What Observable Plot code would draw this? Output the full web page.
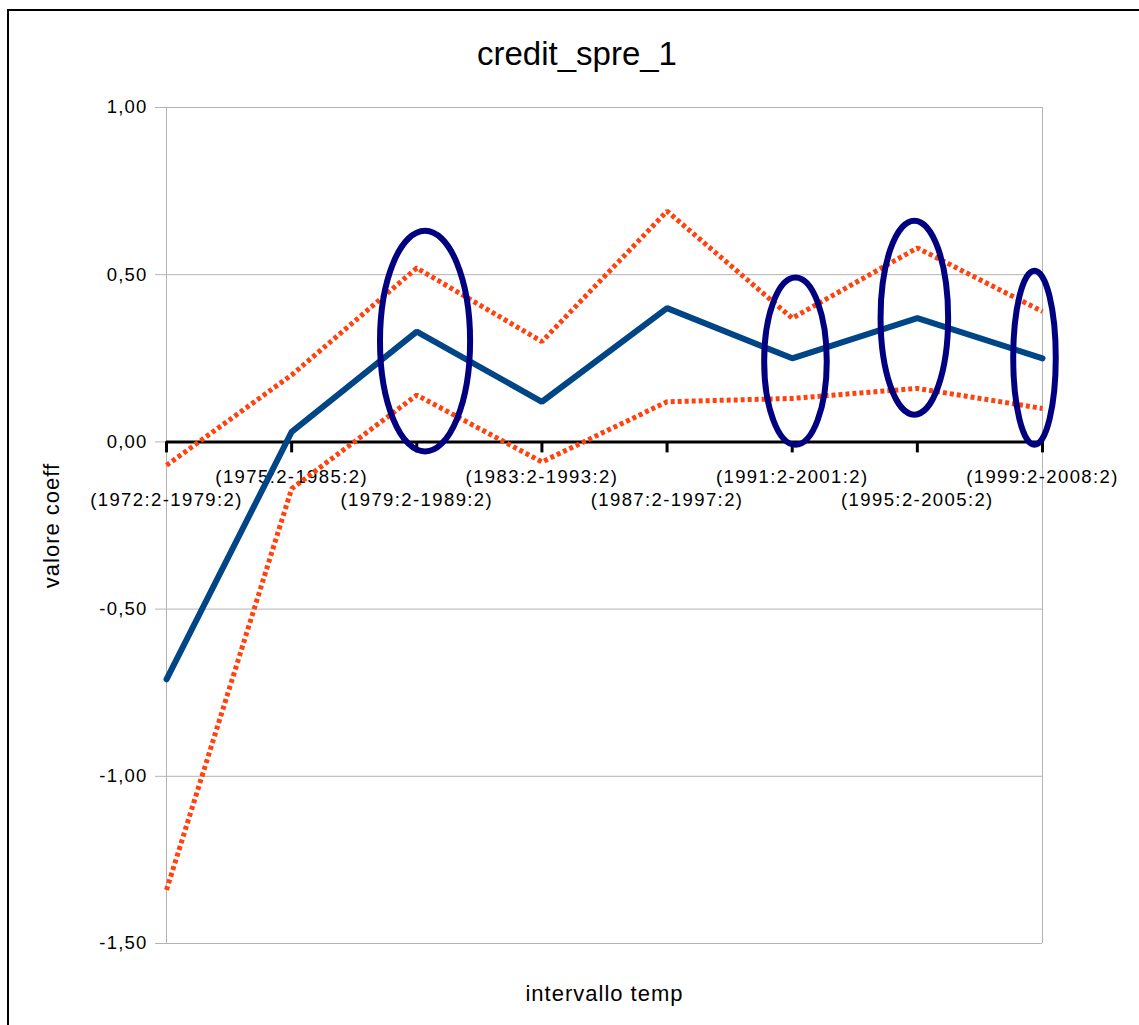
<!DOCTYPE html>
<html>
<head>
<meta charset="utf-8">
<script src="https://cdn.jsdelivr.net/npm/d3@7"></script>
<script src="https://cdn.jsdelivr.net/npm/@observablehq/plot@0.6"></script>
<style>
  html, body { margin: 0; padding: 0; background: #fff; }
  body { width: 1139px; height: 1025px; overflow: hidden; position: relative;
         font-family: "Liberation Sans", Arial, sans-serif; }
  #frame { position: absolute; left: 7px; top: 9px; width: 1300px; height: 1200px;
           border: 2px solid #000; box-sizing: border-box; pointer-events: none; }
  #title { position: relative; width: 1154px; height: 90px; box-sizing: border-box;
           padding-top: 35px; font-size: 33px; line-height: 38px; text-align: center; color: #000; }
  #chart svg { display: block; }
</style>
</head>
<body>
<div id="title">credit_spre_1</div>
<div id="chart"></div>
<div id="frame"></div>
<script>
// Rolling estimation windows
const intervals = [
  "(1972:2-1979:2)", "(1975:2-1985:2)", "(1979:2-1989:2)", "(1983:2-1993:2)",
  "(1987:2-1997:2)", "(1991:2-2001:2)", "(1995:2-2005:2)", "(1999:2-2008:2)"
];
// Coefficient estimate and its confidence band
const coeff      = [-0.71, 0.03, 0.33, 0.12, 0.40, 0.25, 0.37, 0.25];
const upperBound = [-0.07, 0.20, 0.52, 0.30, 0.69, 0.37, 0.58, 0.39];
const lowerBound = [-1.34, -0.14, 0.14, -0.06, 0.12, 0.13, 0.16, 0.10];
const yTicks = [-1.5, -1, -0.5, 0, 0.5, 1];

// Highlighted windows (centre in window index / coefficient units, radii in the same units)
const highlightCx = [2.07, 5.03, 5.98, 6.94];
const highlightCy = [0.30, 0.24, 0.37, 0.25];
const highlightRx = [0.36, 0.25, 0.27, 0.17];
const highlightRy = [0.33, 0.25, 0.29, 0.26];

const rows = intervals.map((label, i) => ({
  i, label, coeff: coeff[i], upper: upperBound[i], lower: lowerBound[i]
}));

const fmt = d3.formatLocale({
  decimal: ",", thousands: ".", grouping: [3], currency: ["", " €"], minus: "-"
}).format(".2f");

// Ellipses drawn through the plot's own x and y scales
const highlights = (index, scales) => {
  const g = d3.create("svg:g").attr("aria-label", "highlights");
  highlightCx.forEach((cx, k) => {
    const px = scales.x(cx), py = scales.y(highlightCy[k]);
    g.append("ellipse")
      .attr("cx", px).attr("cy", py)
      .attr("rx", Math.abs(scales.x(cx + highlightRx[k]) - px))
      .attr("ry", Math.abs(scales.y(highlightCy[k] + highlightRy[k]) - py))
      .attr("fill", "none").attr("stroke", "#000080").attr("stroke-width", 6);
  });
  return g.node();
};

const dotted = {stroke: "#ff420e", strokeWidth: 5, strokeDasharray: "4,3",
                strokeLinecap: "butt", strokeLinejoin: "miter"};

const chart = Plot.plot({
  width: 1139,
  height: 935,
  marginTop: 17,
  marginBottom: 82,
  marginLeft: 166,
  marginRight: 97,
  style: {fontFamily: '"Liberation Sans", Arial, sans-serif', fontSize: "18.5px",
          color: "#000", background: "transparent", overflow: "visible"},
  x: {domain: [0, intervals.length - 1], axis: null},
  y: {domain: [-1.5, 1], axis: null},
  marks: [
    Plot.gridY(yTicks, {stroke: "#b3b3b3", strokeOpacity: 1, strokeWidth: 1}),
    Plot.ruleX([0, intervals.length - 1], {stroke: "#b3b3b3", strokeWidth: 1}),
    Plot.axisY(yTicks, {tickSize: 11, tickPadding: 8, stroke: "#b3b3b3", fill: "#000",
                        tickFormat: fmt, label: null, fontSize: 18.5}),
    Plot.ruleY([0], {stroke: "#000", strokeWidth: 3}),
    Plot.ruleX(rows, {x: "i", y1: () => 0, y2: () => 0, insetTop: 11,
                      stroke: "#000", strokeWidth: 3}),
    Plot.text(rows.filter(d => d.i % 2 === 1), {x: "i", y: () => 0, text: "label",
                      dy: 35, fill: "#000", fontSize: 18.5}),
    Plot.text(rows.filter(d => d.i % 2 === 0), {x: "i", y: () => 0, text: "label",
                      dy: 58.5, fill: "#000", fontSize: 18.5}),
    Plot.line(rows, {x: "i", y: "upper", ...dotted}),
    Plot.line(rows, {x: "i", y: "lower", ...dotted}),
    Plot.line(rows, {x: "i", y: "coeff", stroke: "#004586", strokeWidth: 6,
                     strokeLinejoin: "miter"}),
    highlights,
    Plot.text(["valore coeff"], {text: d => d, frameAnchor: "left", dx: -115, rotate: -90,
                                 textAnchor: "middle", lineAnchor: "middle",
                                 fontSize: 22, fill: "#000"}),
    Plot.text(["intervallo temp"], {text: d => d, frameAnchor: "bottom", dy: 50,
                                    textAnchor: "middle", lineAnchor: "middle",
                                    fontSize: 22, fill: "#000"})
  ]
});

d3.select(chart).selectAll("text")
  .filter(function () { return this.textContent === "valore coeff" || this.textContent === "intervallo temp"; })
  .style("letter-spacing", "1px");
d3.select(chart).selectAll("text")
  .filter(function () { return intervals.includes(this.textContent); })
  .style("letter-spacing", "1.4px");
d3.select(chart).selectAll('g[aria-label="y-axis tick label"] text')
  .style("letter-spacing", "1.2px");

document.getElementById("chart").appendChild(chart);
</script>
</body>
</html>
